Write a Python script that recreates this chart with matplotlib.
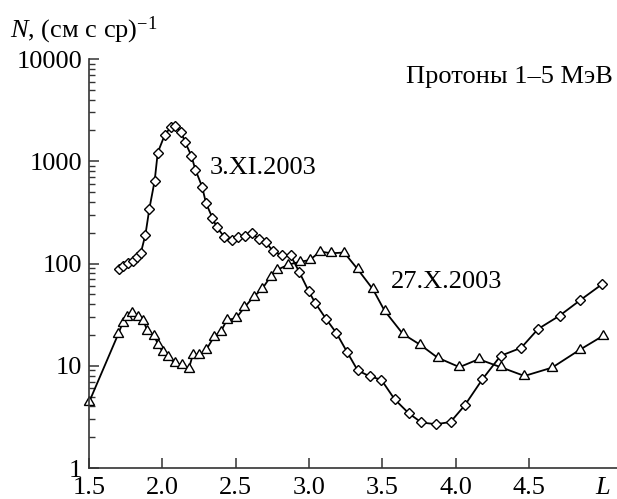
import matplotlib
matplotlib.use('Agg')
import matplotlib.pyplot as plt

# 3.XI.2003 (diamonds)
L_nov = [1.705, 1.734, 1.768, 1.798, 1.83, 1.853, 1.885, 1.912, 1.948, 1.969,
         2.016, 2.06, 2.089, 2.126, 2.155, 2.198, 2.226, 2.271, 2.298, 2.342,
         2.371, 2.424, 2.478, 2.519, 2.565, 2.61, 2.66, 2.705, 2.752, 2.818,
         2.875, 2.935, 2.997, 3.043, 3.118, 3.186, 3.259, 3.332, 3.413, 3.493,
         3.584, 3.68, 3.766, 3.866, 3.965, 4.062, 4.183, 4.306, 4.447, 4.562,
         4.71, 4.851, 5.0]
N_nov = [88, 95, 101, 107, 117, 126, 192, 345, 647, 1217,
         1800, 2186, 2220, 1951, 1550, 1130, 824, 566, 389, 279,
         227, 181, 170, 181, 186, 198, 173, 163, 133, 120,
         120, 82, 54, 41, 28.5, 21, 13.7, 9.0, 7.9, 7.3,
         4.7, 3.43, 2.79, 2.68, 2.82, 4.1, 7.4, 12.5, 15, 22.9,
         31, 44, 63]

# 27.X.2003 (triangles)
L_oct = [1.502, 1.70, 1.73, 1.757, 1.796, 1.837, 1.871, 1.898, 1.944, 1.973,
         2.003, 2.037, 2.087, 2.133, 2.18, 2.208, 2.253, 2.299, 2.353, 2.399,
         2.44, 2.503, 2.56, 2.624, 2.679, 2.738, 2.785, 2.86, 2.938, 3.004,
         3.077, 3.15, 3.24, 3.332, 3.436, 3.515, 3.64, 3.76, 3.877, 4.026,
         4.157, 4.306, 4.469, 4.658, 4.845, 5.004]
N_oct = [4.45, 20.5, 26.4, 29.8, 32.6, 29.8, 27.6, 22.0, 19.6, 16,
         13.7, 12.3, 10.6, 10.2, 9.3, 12.8, 12.8, 14.3, 19.3, 21.6,
         28, 29.2, 37.3, 47.5, 56, 74.5, 87, 97.5, 104, 108,
         131, 126, 128, 88, 56, 34.6, 20.5, 16, 12, 9.7,
         11.6, 9.7, 7.95, 9.6, 14.3, 19.6]

x_ticks = [1.5, 2.0, 2.5, 3.0, 3.5, 4.0, 4.5]
x_ticklabels = ['1.5', '2.0', '2.5', '3.0', '3.5', '4.0', '4.5']
y_ticks = [1, 10, 100, 1000, 10000]
y_ticklabels = ['1', '10', '100', '1000', '10000']

plt.rcParams['font.family'] = ['Liberation Serif', 'DejaVu Serif']
plt.rcParams['mathtext.fontset'] = 'custom'
plt.rcParams['mathtext.rm'] = 'Liberation Serif'
plt.rcParams['mathtext.it'] = 'Liberation Serif:italic'
plt.rcParams['font.size'] = 19

fig = plt.figure(figsize=(6.17, 4.99), dpi=100)
ax = fig.add_axes([0.1442, 0.0621, 0.8558, 0.8196])

ax.plot(L_nov, N_nov, color='black', lw=1.3, marker='D', ms=4.8,
        mfc='white', mec='black', mew=1.0, zorder=3, clip_on=False)
ax.plot(L_oct, N_oct, color='black', lw=1.3, marker=(3, 0, 0), ms=8.5,
        mfc='white', mec='black', mew=1.0, zorder=2, clip_on=False)

ax.set_yscale('log')
ax.set_xlim(1.5, 5.1)
ax.set_ylim(1, 10000)
ax.set_xticks(x_ticks)
ax.set_xticklabels(x_ticklabels)
ax.set_yticks(y_ticks)
ax.set_yticklabels(y_ticklabels)

for s in ['top', 'right']:
    ax.spines[s].set_visible(False)
for s in ['left', 'bottom']:
    ax.spines[s].set_linewidth(1.2)
    ax.spines[s].set_color('#333333')

ax.tick_params(axis='both', which='major', direction='in', length=7,
               width=1.1, color='#333333')
ax.tick_params(axis='y', which='minor', direction='in', length=4.5,
               width=1.0, color='#333333')
ax.tick_params(axis='x', pad=6.5)
ax.tick_params(axis='y', pad=5)

for lab in ax.get_yticklabels():
    lab.set_verticalalignment('center_baseline')

ax.annotate('L', xy=(5.0, 0), xycoords=('data', 'axes fraction'),
            xytext=(0, -6.5), textcoords='offset points',
            ha='center', va='top', style='italic', fontsize=19)

ax.text(2.32, 861, '3.XI.2003', ha='left', va='center', fontsize=19)
ax.text(3.555, 66, '27.X.2003', ha='left', va='center', fontsize=19)

fig.text(0.9935, 0.8457, 'Протоны 1–5 МэВ', ha='right', va='center',
         fontsize=19)
fig.text(0.016, 0.924, r'$\mathit{N}$, (см с ср)$^{-1}$', ha='left',
         va='baseline', fontsize=19)

fig.savefig('out.png', dpi=100)
